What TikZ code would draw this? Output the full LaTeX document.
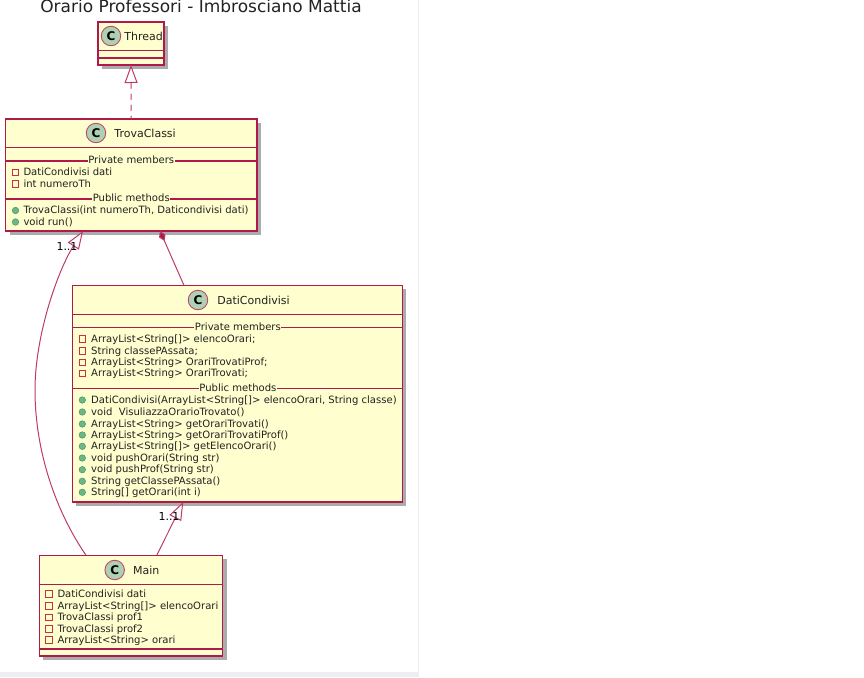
\documentclass[tikz,border=0pt]{standalone}
\usepackage{fontspec}
\setmainfont{DejaVu Sans}
\usepackage{xcolor}
\definecolor{umlline}{HTML}{B01A4A}
\definecolor{umlfill}{HTML}{FEFECE}
\definecolor{umlicon}{HTML}{ADD1B2}
\definecolor{pubfill}{HTML}{6FB585}
\definecolor{publine}{HTML}{3F9A68}
\definecolor{privline}{HTML}{C8303F}
\definecolor{pagerule}{HTML}{ECEEF3}
\definecolor{inktext}{HTML}{222222}
\usepackage{tikz}
\usetikzlibrary{arrows.meta,positioning,shadows}

\begin{document}
\begin{tikzpicture}[
  x=1pt, y=-1pt,
  cls/.style={draw=umlline, fill=umlfill, line width=1.4pt, inner sep=0pt, outer sep=0pt,
    drop shadow={shadow xshift=4pt, shadow yshift=-4pt, fill=black!60, opacity=.55}},
  sep/.style={umlline, line width=1.3pt},
  icon/.style={circle, draw=umlline!80, fill=umlicon, line width=.9pt, minimum size=19.5pt,
    inner sep=0pt, font=\fontsize{12}{12}\selectfont\bfseries, text=black},
  cname/.style={inner sep=0pt, font=\fontsize{11}{13}\selectfont, text=inktext},
  sect/.style={fill=umlfill, inner sep=.5pt, text height=8pt, text depth=2pt,
    font=\fontsize{10.05}{12}\selectfont, text=inktext},
  member/.style={anchor=west, inner sep=0pt, text height=8pt, text depth=2pt,
    font=\fontsize{10.05}{12}\selectfont, text=inktext},
  privmark/.style={draw=privline, line width=.8pt, minimum size=6.6pt, inner sep=0pt},
  pubmark/.style={circle, draw=publine, fill=pubfill, line width=.5pt, minimum size=6.5pt, inner sep=0pt},
  mult/.style={inner sep=0pt, font=\fontsize{11}{13}\selectfont, text=black},
  assoc/.style={umlline!85, line width=1pt},
  hollow/.style={{Triangle[open, length=18pt, width=13pt, fill=white]}-},
  solid diamond/.style={{Diamond[length=11pt, width=7pt, fill=umlline]}-}
]
\useasboundingbox (0,0) rectangle (864,677);
% page edges
\fill[pagerule] (0,672) rectangle (418,677);
\draw[pagerule, line width=1pt] (418.5,0) -- (418.5,677);

\node[font=\fontsize{17}{20}\selectfont, text=inktext] (title) at (201,6.5) {Orario Professori - Imbrosciano Mattia};

% Thread
\node[cls, minimum width=66pt, minimum height=43pt] (thread) at (131,43.5) {};
\node[icon] (threadc) at (111,36) {C};
\node[cname, right=3pt of threadc] (threadn) {Thread};
\draw[sep] (98,50.5) -- (164,50.5);
\draw[sep] (98,58) -- (164,58);

% TrovaClassi
\node[cls, minimum width=251.5pt, minimum height=112pt] (trova) at (131.25,175) {};
\node[icon] (trovac) at (96,133) {C};
\node[cname, right=8pt of trovac] (trovan) {TrovaClassi};
\draw[sep] (5.5,147.5) -- (257,147.5);
\draw[sep] (5.5,161) -- (257,161);
\draw[sep] (5.5,199) -- (257,199);
\node[sect] (trovapriv) at (131.25,160.5) {Private members};
\node[sect] (trovapub) at (131.25,198.5) {Public methods};
\foreach \iy/\txt [count=\i] in {172.5/{DatiCondivisi dati}, 184/{int numeroTh}} {
  \node[privmark] (trovam\i) at (15.5,\iy) {};
  \node[member] (trovat\i) at (23.3,\iy) {\txt};
}
\foreach \iy/\txt [count=\i] in {210.5/{TrovaClassi(int numeroTh, Daticondivisi dati)}, 222/{void run()}} {
  \node[pubmark] (trovao\i) at (15.5,\iy) {};
  \node[member] (trovaf\i) at (23.3,\iy) {\txt};
}

% DatiCondivisi
\node[cls, minimum width=330pt, minimum height=216.5pt] (dati) at (237.2,393.7) {};
\node[icon] (datic) at (198,300) {C};
\node[cname, right=9pt of datic] (datin) {DatiCondivisi};
\draw[sep] (72.2,314.3) -- (402.2,314.3);
\draw[sep] (72.2,327.7) -- (402.2,327.7);
\draw[sep] (72.2,388.7) -- (402.2,388.7);
\node[sect] (datipriv) at (237.9,327.2) {Private members};
\node[sect] (datipub) at (237.9,388.2) {Public methods};
\foreach \iy/\txt [count=\i] in {339/{ArrayList<String[]> elencoOrari;}, 351/{String classePAssata;},
    362.5/{ArrayList<String> OrariTrovatiProf;}, 373.5/{ArrayList<String> OrariTrovati;}} {
  \node[privmark] (datim\i) at (82.3,\iy) {};
  \node[member] (datit\i) at (91,\iy) {\txt};
}
\foreach \iy/\txt [count=\i] in {400/{DatiCondivisi(ArrayList<String[]> elencoOrari, String classe)},
    412/{void\ \ VisuliazzaOrarioTrovato()}, 424/{ArrayList<String> getOrariTrovati()},
    435/{ArrayList<String> getOrariTrovatiProf()}, 446.3/{ArrayList<String[]> getElencoOrari()},
    458/{void pushOrari(String str)}, 469.7/{void pushProf(String str)},
    481.3/{String getClassePAssata()}, 492.3/{String[] getOrari(int i)}} {
  \node[pubmark] (datio\i) at (82.3,\iy) {};
  \node[member] (datif\i) at (91,\iy) {\txt};
}

% Main
\node[cls, minimum width=183.4pt, minimum height=100.7pt] (main) at (131,605.6) {};
\node[icon] (mainc) at (114.7,570) {C};
\node[cname, right=8pt of mainc] (mainn) {Main};
\draw[sep] (39.3,584.3) -- (222.7,584.3);
\draw[sep] (39.3,649) -- (222.7,649);
\foreach \iy/\txt [count=\i] in {594/{DatiCondivisi dati}, 606/{ArrayList<String[]> elencoOrari},
    617.5/{TrovaClassi prof1}, 629/{TrovaClassi prof2}, 640/{ArrayList<String> orari}} {
  \node[privmark] (mainm\i) at (49,\iy) {};
  \node[member] (maint\i) at (57.3,\iy) {\txt};
}

% connectors
\draw[assoc, hollow, dashed, dash pattern=on 6pt off 5pt] (thread.south) -- (trova.north);
\draw[assoc, hollow] ([xshift=-48.2pt]trova.south)
  .. controls (58,270) and (35,335) .. (35,390)
  .. controls (35,450) and (55,510) .. ([xshift=-45pt]main.north);
\draw[assoc, solid diamond] ([xshift=28.8pt]trova.south) -- ([xshift=-53.2pt]dati.north);
\draw[assoc, hollow] ([xshift=-53.9pt]dati.south) -- ([xshift=25.7pt]main.north);
\node[mult] (mult1) at (67,246) {1..1};
\node[mult] (mult2) at (169,516) {1..1};
\end{tikzpicture}
\end{document}
